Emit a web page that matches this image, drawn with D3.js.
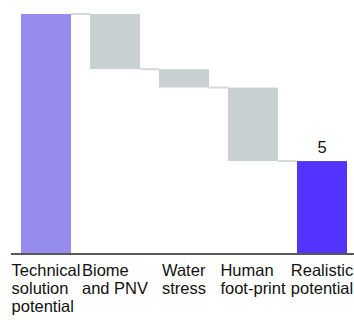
<!DOCTYPE html>
<html>
<head>
<meta charset="utf-8">
<script src="https://cdn.jsdelivr.net/npm/d3@7"></script>
<style>
html,body{margin:0;padding:0;background:#fff;}
svg{display:block;}
text{font-family:"Liberation Sans",Arial,sans-serif;}
</style>
</head>
<body>
<svg id="chart" width="354" height="320"></svg>
<script>
const categories = ["Technical solution potential","Biome and PNV","Water stress","Human foot-print","Realistic potential"];
const labelLines = [["Technical","solution","potential"],["Biome","and PNV"],["Water","stress"],["Human","foot-print"],["Realistic","potential"]];
const steps = [13, -3, -1, -4, 5];
const kinds = ["total","delta","delta","delta","total"];
const shownLabels = ["", "", "", "", "5"];
const colors = {first:"#968cee", delta:"#c8d0d1", last:"#5233ff"};

// build running table
let run = 0;
const rows = categories.map((c,i)=>{
  let start, end;
  if (kinds[i]==="total"){ start=0; end=steps[i]; run=steps[i]; }
  else { start=run; end=run+steps[i]; run=end; }
  return {cat:c, lines:labelLines[i], start, end, kind:kinds[i], idx:i, label:shownLabels[i]};
});

const svg = d3.select("#chart");
const x = d3.scaleBand().domain(categories).range([2,366]).paddingInner(0.275).paddingOuter(0.275);
const y = d3.scaleLinear().domain([0,13]).range([253,14]);
const bw = x.bandwidth();

// connectors
svg.append("g").selectAll("line").data(rows.slice(0,-1)).join("line")
  .attr("x1", d=>x(d.cat)+bw)
  .attr("x2", (d,i)=>x(categories[i+1]))
  .attr("y1", d=>y(d.end)).attr("y2", d=>y(d.end))
  .attr("stroke","#d6d9da").attr("stroke-width",2);

// bars
svg.append("g").selectAll("rect").data(rows).join("rect")
  .attr("x", d=>x(d.cat))
  .attr("width", bw)
  .attr("y", d=>y(Math.max(d.start,d.end)))
  .attr("height", d=>Math.abs(y(d.start)-y(d.end)))
  .attr("fill", d=> d.idx===0 ? colors.first : (d.kind==="total" ? colors.last : colors.delta));

// value label
svg.append("g").selectAll("text").data(rows.filter(d=>d.label)).join("text")
  .attr("x", d=>x(d.cat)+bw/2)
  .attr("y", d=>y(d.end)-8)
  .attr("text-anchor","middle")
  .attr("font-size",16.5)
  .attr("fill","#111")
  .text(d=>d.label);

// axis line
svg.append("line").attr("x1",11).attr("x2",354).attr("y1",254).attr("y2",254)
  .attr("stroke","#222").attr("stroke-width",1.5);

// category labels: lines left-aligned in a block centred on the band
const lg = svg.append("g");
rows.forEach(d=>{
  const g = lg.append("g");
  const ts = d.lines.map((t,j)=> g.append("text")
      .attr("y", 276 + j*18)
      .attr("font-size",16.5)
      .attr("fill","#111")
      .text(t));
  const w = d3.max(ts, t=>t.node().getComputedTextLength());
  const x0 = x(d.cat)+bw/2 - w/2;
  ts.forEach(t=>t.attr("x", x0));
});
</script>
</body>
</html>
